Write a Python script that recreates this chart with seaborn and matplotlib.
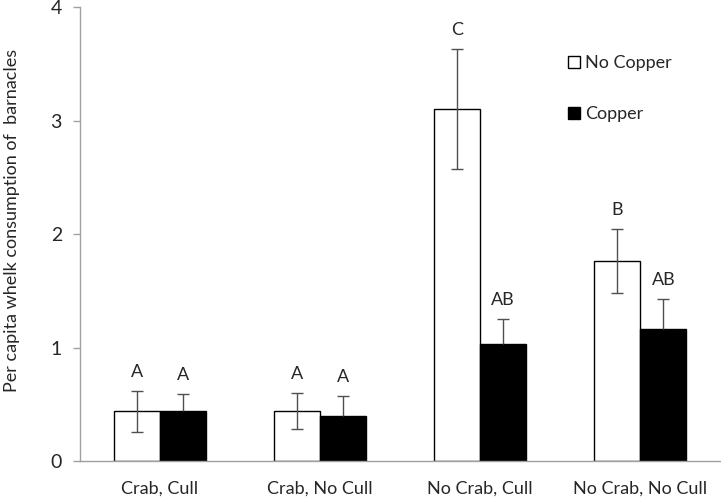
import numpy as np
import pandas as pd
import seaborn as sns
import matplotlib.pyplot as plt
from matplotlib.patches import Patch

# values
treatments = ['Crab, Cull', 'Crab, No Cull', 'No Crab, Cull', 'No Crab, No Cull']
no_copper = [0.44, 0.44, 3.10, 1.76]
no_copper_se = [0.18, 0.16, 0.53, 0.28]
copper = [0.44, 0.40, 1.03, 1.16]
copper_se = [0.15, 0.17, 0.22, 0.27]
no_copper_letters = ['A', 'A', 'C', 'B']
copper_letters = ['A', 'A', 'AB', 'AB']

df = pd.DataFrame({
    'treatment': treatments * 2,
    'copper': ['No Copper'] * 4 + ['Copper'] * 4,
    'value': no_copper + copper,
    'se': no_copper_se + copper_se,
    'letter': no_copper_letters + copper_letters,
})

sns.set_style('white')
plt.rcParams['font.family'] = ['Lato', 'DejaVu Sans']

fig = plt.figure(figsize=(7.21, 4.97), dpi=100)
ax = fig.add_axes([0.111, 0.0724, 0.888, 0.9135])

sns.barplot(data=df, x='treatment', y='value', hue='copper',
            palette={'No Copper': 'white', 'Copper': 'black'},
            saturation=1, edgecolor='black', linewidth=1, width=0.575, gap=0,
            errorbar=None, ax=ax, legend=False)

# error bars and letters, matched to the bars by order
bars = [p for p in ax.patches if p.get_height() > 0]
for bar, (_, row) in zip(bars, df.iterrows()):
    xc = bar.get_x() + bar.get_width() / 2
    black = row['copper'] == 'Copper'
    # on black bars only the upper half of the error bar shows
    lower = 0 if black else row['se']
    _, caps, _ = ax.errorbar(xc, row['value'], yerr=[[lower], [row['se']]],
                             color='#505050', elinewidth=1, capsize=4,
                             capthick=1, zorder=3)
    if black:
        for c in caps:
            if np.isclose(c.get_ydata()[0], row['value']):
                c.set_visible(False)
    ax.annotate(row['letter'], (xc, row['value'] + row['se']),
                xytext=(0, 8), textcoords='offset points',
                ha='center', va='bottom', fontsize=13)

ax.set_ylim(0, 4)
ax.set_xlim(-0.5, 3.5)
ax.set_yticks([0, 1, 2, 3, 4])
ax.set_xlabel('')
ax.set_ylabel('Per capita whelk consumption of  barnacles', fontsize=13)
ax.yaxis.set_label_coords(-0.094, 0.53)
ax.tick_params(axis='y', labelsize=14, length=5, width=1, color='#a0a0a0',
               direction='out', left=True, pad=8)
ax.tick_params(axis='x', labelsize=13, length=0, pad=14)

sns.despine(ax=ax)
for s in ['left', 'bottom']:
    ax.spines[s].set_color('#a0a0a0')
    ax.spines[s].set_linewidth(1)

handles = [Patch(facecolor='white', edgecolor='black', label='No Copper'),
           Patch(facecolor='black', edgecolor='black', label='Copper')]
ax.legend(handles=handles, loc='upper left', bbox_to_anchor=(0.737, 0.93),
          frameon=False, handlelength=0.65, handleheight=0.65,
          handletextpad=0.3, labelspacing=1.95, fontsize=13)

fig.savefig('out.png', dpi=100)
